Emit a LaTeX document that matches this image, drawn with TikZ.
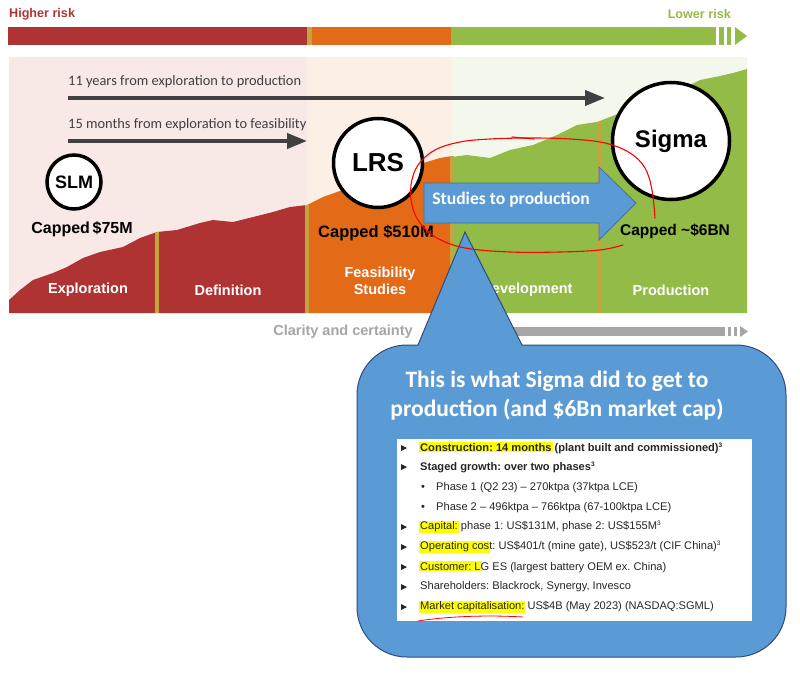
\documentclass[tikz,border=0pt]{standalone}
\usepackage{fontspec}
\setmainfont{Liberation Sans}
\newfontfamily\calfont{Carlito}
\usepackage{tikz}
\usetikzlibrary{arrows.meta}
\frenchspacing

\definecolor{riskred}{HTML}{AF3333}
\definecolor{riskorange}{HTML}{E36B18}
\definecolor{riskgreen}{HTML}{93BB47}
\definecolor{divgold}{HTML}{C4A43C}
\definecolor{palered}{HTML}{F8E9E6}
\definecolor{paleorange}{HTML}{FCEFE6}
\definecolor{palegreen}{HTML}{F4F7EB}
\definecolor{darkgrey}{HTML}{404040}
\definecolor{claritygrey}{HTML}{A6A6A6}
\definecolor{callblue}{HTML}{5B9BD5}
\definecolor{calledge}{HTML}{2F4A7A}
\definecolor{arrowedge}{HTML}{41719C}
\definecolor{listgrey}{HTML}{262626}
\definecolor{hlyellow}{HTML}{FFFF00}

\newcommand{\hl}[1]{{\setlength{\fboxsep}{1pt}\kern-1pt\colorbox{hlyellow}{#1}\kern-1pt}}
\newcommand{\sups}{\textsuperscript{\fontsize{6.5}{6.5}\selectfont 3}}

\begin{document}
\begin{tikzpicture}[x=1pt,y=-1pt,
  phase/.style={text=white,font=\bfseries\fontsize{14.5}{17}\selectfont,align=center},
  capped/.style={font=\bfseries\fontsize{16}{18}\selectfont},
  company/.style={shape=circle,draw=black,fill=white,line width=3.5pt,inner sep=0pt},
  timeline/.style={-{Triangle[length=20pt,width=15pt]},line width=4pt,draw=darkgrey},
  timetext/.style={anchor=west,inner sep=0pt,text=darkgrey,font=\calfont\fontsize{14.4}{16}\selectfont},
  divider/.style={draw=divgold,line width=4pt},
  listrow/.style={anchor=west,inner sep=0pt,text=listgrey,font=\fontsize{11.1}{13}\selectfont},
  arrowbullet/.style={fill=listgrey}]

	\useasboundingbox (0,0) rectangle (800,674);
	\fill[white] (0,0) rectangle (800,674);

	% risk bar
	\node[anchor=west,inner sep=0pt,text=riskred,font=\bfseries\fontsize{12.6}{14}\selectfont] (higher) at (9,14) {Higher risk};
	\node[anchor=east,inner sep=0pt,text=riskgreen,font=\bfseries\fontsize{12.6}{14}\selectfont] (lower) at (731,14) {Lower risk};
	\fill[riskred] (8,27) rectangle (307,45);
	\fill[divgold] (307,27) rectangle (312,45);
	\fill[riskorange] (312,27) rectangle (451,45);
	\fill[riskgreen] (451,27) rectangle (716,45);
	\fill[riskgreen] (719,27) rectangle (724,45);
	\fill[riskgreen] (727,27) rectangle (731,45);
	\fill[riskgreen] (735,27) -- (747,36) -- (735,45) -- cycle;

	% stages
	\fill[palered] (9,57) rectangle (307,313);
	\fill[paleorange] (307,57) rectangle (452,313);
	\fill[palegreen] (452,57) rectangle (747,313);
	\fill[riskred] (9,313) -- (9,300) -- (20,290) -- (33,280) -- (53,273) -- (67,267) -- (83,258)
		-- (100,252) -- (123,247) -- (140,238) -- (157,232) -- (177,230) -- (200,223) -- (213,220)
		-- (233,222) -- (253,217) -- (273,212) -- (290,207) -- (307,205) -- (307,313) -- cycle;
	\fill[riskorange] (307,313) -- (307,205) -- (323,197) -- (337,192) -- (360,184) -- (390,174)
		-- (420,164) -- (440,158) -- (452,156) -- (452,313) -- cycle;
	\fill[riskgreen] (452,313) -- (452,157) -- (467,155) -- (490,158) -- (510,150) -- (533,145)
		-- (557,135) -- (577,125) -- (597,122) -- (610,117) -- (640,105) -- (670,95) -- (700,80)
		-- (720,76) -- (733,73) -- (747,69) -- (747,313) -- cycle;
	\draw[divider] (157,232) -- (157,313);
	\draw[divider] (307,205) -- (307,313);
	\draw[divider] (452,156) -- (452,313);
	\draw[divider] (600,122) -- (600,313);

	\node[phase] (explo) at (88,290) {Exploration};
	\node[phase] (defin) at (228,290) {Definition};
	\node[phase] (feas) at (380,281) {Feasibility\\Studies};
	\node[phase] (devel) at (527,290) {Development};
	\node[phase] (prod) at (671,290) {Production};

	% time arrows
	\node[timetext] (t1) at (68,82) {11 years from exploration to production};
	\node[timetext] (t2) at (68,125) {15 months from exploration to feasibility};
	\coordinate (t1s) at (68,98);
	\coordinate (t1e) at (605,98);
	\coordinate (t2s) at (68,141);
	\coordinate (t2e) at (307,141);
	\draw[timeline] (t1s) -- (t1e);
	\draw[timeline] (t2s) -- (t2e);

	% companies
	\node[company,minimum size=54pt,font=\bfseries\fontsize{18}{20}\selectfont] (slm) at (74,182) {SLM};
	\node[company,minimum size=89pt,font=\bfseries\fontsize{26}{28}\selectfont] (lrs) at (378,163) {LRS};
	\node[company,minimum size=117pt,font=\bfseries\fontsize{24}{26}\selectfont] (sigma) at (671,141) {Sigma};
	\node[capped] (c1) at (82,229) {Capped\,\$75M};
	\node[capped,font=\bfseries\fontsize{16.5}{18}\selectfont] (c2) at (376,233) {Capped \$510M};
	\node[capped,font=\bfseries\fontsize{15.5}{18}\selectfont] (c3) at (675,231) {Capped \textasciitilde\$6BN};

	% block arrow
	\draw[fill=callblue,draw=arrowedge,line width=0.8pt] (424,183) -- (599,183) -- (599,167) -- (636,203)
		-- (599,240) -- (599,223) -- (424,223) -- cycle;
	\node[text=white,font=\calfont\bfseries\fontsize{17.6}{19}\selectfont] (studies) at (511,200) {Studies to production};

	% clarity bar
	\node[text=claritygrey,font=\bfseries\fontsize{14.5}{16}\selectfont] (clarity) at (343,332) {Clarity and certainty};
	\fill[claritygrey] (480,327) rectangle (725,336);
	\fill[claritygrey] (728,327) rectangle (731,336);
	\fill[claritygrey] (734,327) rectangle (737,336);
	\fill[claritygrey] (740,326) -- (748,331.5) -- (740,337) -- cycle;

	% callout
	\draw[fill=callblue,draw=calledge,line width=1pt] (357,395) arc[start angle=180,end angle=270,radius=50]
		-- (418,345) -- (465,232) -- (522,345) -- (736,345) arc[start angle=270,end angle=360,radius=50]
		-- (786,607) arc[start angle=0,end angle=90,radius=50] -- (407,657)
		arc[start angle=90,end angle=180,radius=50] -- cycle;
	\node[text=white,align=center,font=\calfont\bfseries\fontsize{23.5}{29}\selectfont] (title) at (557,396)
		{This is what Sigma did to get to\\production (and \$6Bn market cap)};
	\fill[white] (397,439) rectangle (752,621);

	\foreach \yy in {448,467,527,547,567,587,607}
		\fill[arrowbullet] (401,\yy-3) -- (407,\yy) -- (401,\yy+3) -- cycle;
	\node[listrow,font=\bfseries\fontsize{11.1}{13}\selectfont] (r1) at (420,448) {\hl{Construction: 14 months} (plant built and commissioned)\sups};
	\node[listrow,font=\bfseries\fontsize{11.1}{13}\selectfont] (r2) at (420,467) {Staged growth: over two phases\sups};
	\node[listrow] (b3) at (421,488) {\textbullet};
	\node[listrow] (r3) at (436,488) {Phase 1 (Q2 23) -- 270ktpa (37ktpa LCE)};
	\node[listrow] (b4) at (421,508) {\textbullet};
	\node[listrow] (r4) at (436,508) {Phase 2 -- 496ktpa -- 766ktpa (67-100ktpa LCE)};
	\node[listrow] (r5) at (420,527) {\hl{Capital:} phase 1: US\$131M, phase 2: US\$155M\sups};
	\node[listrow] (r6) at (420,547) {\hl{Operating cos}t: US\$401/t (mine gate), US\$523/t (CIF China)\sups};
	\node[listrow] (r7) at (420,567) {\hl{Customer: L}G ES (largest battery OEM ex. China)};
	\node[listrow] (r8) at (420,587) {Shareholders: Blackrock, Synergy, Invesco};
	\node[listrow] (r9) at (420,607) {\hl{Market capitalisation:} US\$4B (May 2023) (NASDAQ:SGML)};

	% red pen marks
	\draw[red,line width=1.1pt,line cap=round] plot[smooth,tension=0.6] coordinates {(655,218) (652,190) (645,168)
		(630,153) (605,143) (570,139) (530,138) (490,139) (460,142) (435,150) (418,165) (411,185) (412,205)
		(420,223) (437,238) (465,248) (510,252) (560,252) (600,250) (623,245)};
	\draw[red,line width=1.1pt,line cap=round] (512,137) -- (534,139);
	\draw[red,line width=0.8pt,line cap=round] (418,621) .. controls (450,616) and (490,615) .. (523,617);

\end{tikzpicture}
\end{document}
